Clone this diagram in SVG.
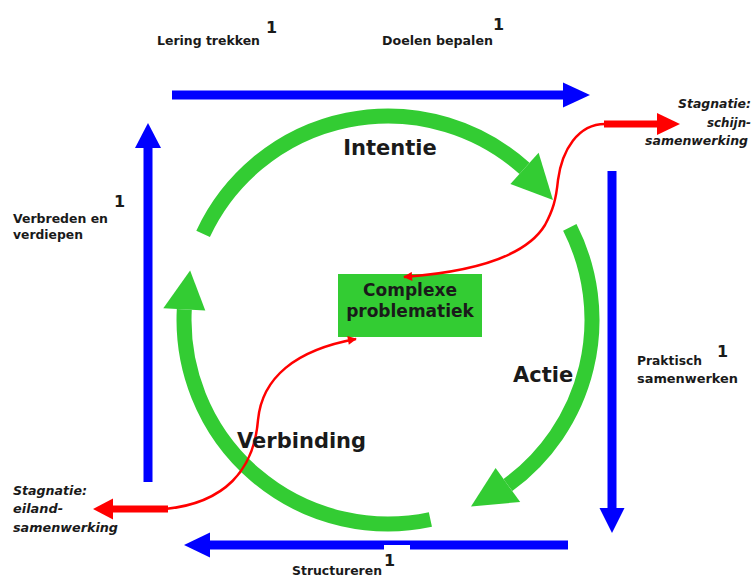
<svg xmlns="http://www.w3.org/2000/svg" width="753" height="579" viewBox="0 0 753 579">
<defs>
<style>
.bl{stroke:#0000ff;stroke-width:9;fill:none}
.blh{fill:#0000ff}
.gr{stroke:#33cc33;stroke-width:15;fill:none}
.grh{fill:#33cc33}
.rd{stroke:#ff0000;stroke-width:2.5;fill:none}
.rdt{stroke:#ff0000;stroke-width:7;fill:none}
.rdh{fill:#ff0000}
text{font-family:"DejaVu Sans","Liberation Sans",sans-serif;font-weight:bold;fill:#1a1a1a}
.sm{font-size:12.4px}
.sup{font-size:16px}
.big{font-size:21px}
.it{font-style:italic;font-size:12.5px}
</style>
<marker id="ra" viewBox="0 0 10 10" refX="9" refY="5" markerUnits="userSpaceOnUse" markerWidth="11" markerHeight="9" orient="auto">
<path d="M0,0 L10,5 L0,10 z" fill="#ff0000"/>
</marker>
</defs>
<rect width="753" height="579" fill="#ffffff"/>
<g id="connectors">
<g id="cycle">
<path class="gr" d="M203.1,233.8 A204,204 0 0 1 524.5,168.4"/>
<polygon class="grh" points="538.6,152.8 553.0,200.1 510.4,184.0"/>
<path class="gr" d="M569.8,227.4 A204,204 0 0 1 507.9,485.0"/>
<polygon class="grh" points="520.2,502.0 471.0,506.4 495.6,468.0"/>
<path class="gr" d="M430.4,519.5 A204,204 0 0 1 184.3,309.3"/>
<polygon class="grh" points="163.3,308.2 190.1,270.6 205.3,310.4"/>
</g>
<g id="frame">
<path class="bl" d="M172,95 H565"/>
<polygon class="blh" points="563,82.5 590,95 563,107.5"/>
<path class="bl" d="M612,171 V510"/>
<polygon class="blh" points="599.5,508 612,533 624.5,508"/>
<path class="bl" d="M568,545 H208"/>
<polygon class="blh" points="210,532.5 184,545 210,557.5"/>
<path class="bl" d="M148,482 V146"/>
<polygon class="blh" points="135,148 148,123 161,148"/>
<rect x="384" y="545" width="26" height="6" fill="#ffffff"/>
</g>
</g>
<g id="node-complexe">
<rect x="338" y="274" width="144" height="63" fill="#33cc33"/>
<text x="410" y="296" font-size="17" text-anchor="middle">Complexe</text>
<text x="410" y="317" font-size="17" text-anchor="middle">problematiek</text>
</g>
<g id="stagnation">
<path class="rd" d="M605,124 C578,124 562,150 558,180 C556,200 553,210 545,225 C525,258 470,272 404,277" marker-end="url(#ra)"/>
<path class="rdt" d="M604,124 H659"/>
<polygon class="rdh" points="657,113 680,124 657,135"/>
<path class="rd" d="M165,509 C225,503 254,470 258,420 C262,378 295,350 356,339" marker-end="url(#ra)"/>
<path class="rdt" d="M168,509 H111"/>
<polygon class="rdh" points="113,498.5 93,509 113,519.5"/>
</g>
<g id="node-intentie"><text class="big" x="390" y="155" text-anchor="middle">Intentie</text></g>
<g id="node-actie"><text class="big" x="513" y="382">Actie</text></g>
<g id="node-verbinding"><text class="big" x="237" y="448">Verbinding</text></g>
<g id="label-lering">
<text class="sm" x="157" y="45" textLength="103" lengthAdjust="spacingAndGlyphs">Lering trekken</text>
<text class="sup" x="266" y="33">1</text>
</g>
<g id="label-doelen">
<text class="sm" x="382" y="45" textLength="111" lengthAdjust="spacingAndGlyphs">Doelen bepalen</text>
<text class="sup" x="493" y="30">1</text>
</g>
<g id="label-verbreden">
<text class="sm" x="13" y="223" textLength="95" lengthAdjust="spacingAndGlyphs">Verbreden en</text>
<text class="sm" x="13" y="239" textLength="70" lengthAdjust="spacingAndGlyphs">verdiepen</text>
<text class="sup" x="114" y="207">1</text>
</g>
<g id="label-praktisch">
<text class="sm" x="637" y="365" textLength="65" lengthAdjust="spacingAndGlyphs">Praktisch</text>
<text class="sm" x="637" y="383" textLength="101" lengthAdjust="spacingAndGlyphs">samenwerken</text>
<text class="sup" x="717" y="357">1</text>
</g>
<g id="label-structureren">
<text class="sm" x="292" y="575" textLength="90" lengthAdjust="spacingAndGlyphs">Structureren</text>
<text class="sup" x="384" y="566">1</text>
</g>
<g id="label-stagnatie-schijn">
<text class="it" x="751" y="108" text-anchor="end" textLength="73" lengthAdjust="spacingAndGlyphs">Stagnatie:</text>
<text class="it" x="751" y="127" text-anchor="end" textLength="44" lengthAdjust="spacingAndGlyphs">schijn-</text>
<text class="it" x="748" y="145" text-anchor="end" textLength="103" lengthAdjust="spacingAndGlyphs">samenwerking</text>
</g>
<g id="label-stagnatie-eiland">
<text class="it" x="13" y="495" textLength="74" lengthAdjust="spacingAndGlyphs">Stagnatie:</text>
<text class="it" x="13" y="513" textLength="50" lengthAdjust="spacingAndGlyphs">eiland-</text>
<text class="it" x="13" y="532" textLength="105" lengthAdjust="spacingAndGlyphs">samenwerking</text>
</g>
</svg>
